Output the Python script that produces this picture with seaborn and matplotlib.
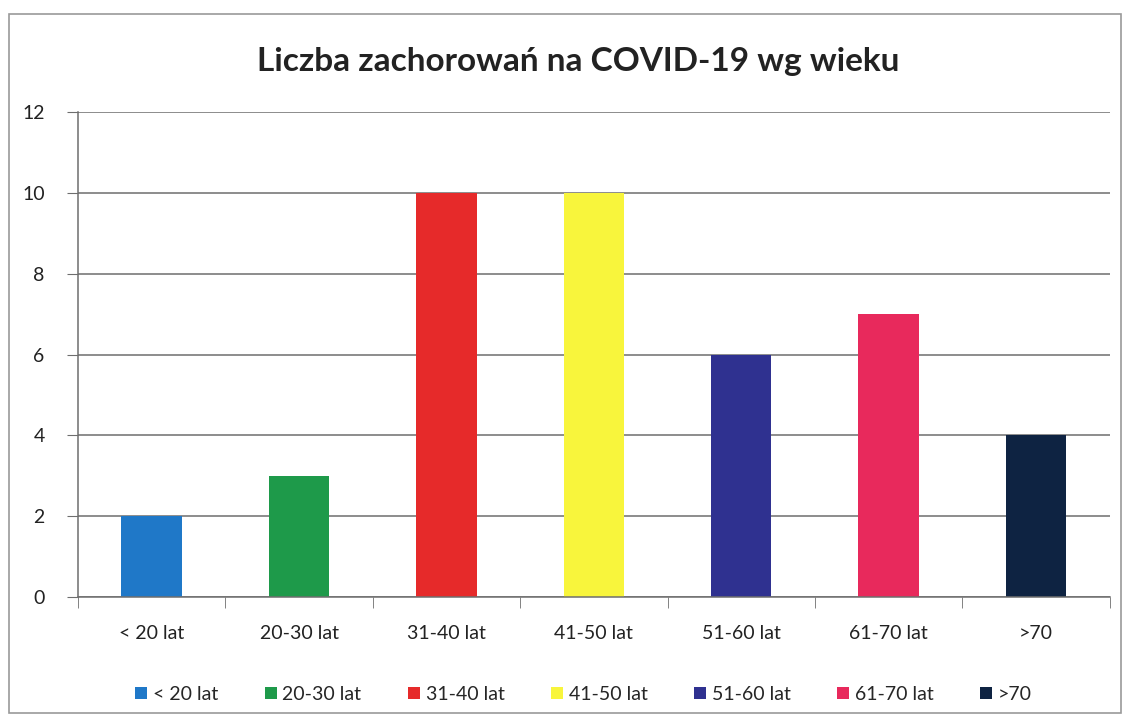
import pandas as pd
import matplotlib
matplotlib.use("Agg")
import matplotlib.pyplot as plt
from matplotlib.patches import Rectangle
import seaborn as sns

# Dane z wykresu
kategorie = ['< 20 lat', '20-30 lat', '31-40 lat', '41-50 lat', '51-60 lat', '61-70 lat', '>70']
liczba = [2, 3, 10, 10, 6, 7, 4]
kolory = ['#1f78c8', '#1e9a4a', '#e62a2a', '#f8f53c', '#2f3190', '#e8295c', '#0e2342']

df = pd.DataFrame({'wiek': kategorie, 'liczba': liczba})

sns.set_style('white')
plt.rcParams['font.family'] = ['Lato', 'DejaVu Sans']

fig = plt.figure(figsize=(11.3, 7.2), dpi=100)
ax = fig.add_axes([0.069, 0.171, 0.913, 0.673])

sns.barplot(data=df, x='wiek', y='liczba', hue='wiek', palette=kolory,
            width=0.41, saturation=1, linewidth=0, ax=ax, legend=True)

ax.set_ylim(0, 12)
ax.set_yticks(range(0, 13, 2))
ax.set_xlim(-0.5, len(kategorie) - 0.5)
ax.yaxis.grid(True, color='#6e6e6e', linewidth=1.1)
ax.set_axisbelow(True)
ax.set_xlabel('')
ax.set_ylabel('')

for s in ['top', 'right']:
    ax.spines[s].set_visible(False)
for s in ['left', 'bottom']:
    ax.spines[s].set_color('#6e6e6e')
    ax.spines[s].set_linewidth(1.1)

# znaczniki osi X między kategoriami (styl Excela)
ax.set_xticks([i - 0.5 for i in range(len(kategorie) + 1)], minor=True)
ax.tick_params(axis='x', which='major', length=0, labelsize=14, pad=20, colors='#222222')
ax.tick_params(axis='x', which='minor', length=8, color='#6e6e6e', bottom=True)
ax.tick_params(axis='y', length=8, color='#6e6e6e', labelsize=14, pad=16, colors='#222222', left=True)

ax.set_title('Liczba zachorowań na COVID-19 wg wieku', fontsize=24, fontweight='bold',
             color='#222222', pad=30, x=0.485)

sns.move_legend(ax, 'lower center', bbox_to_anchor=(0.49, -0.255), ncol=7, frameon=False,
                title=None, fontsize=14, handlelength=0.6, handleheight=0.6,
                handletextpad=0.3, columnspacing=2.4)

# ramka wokół wykresu
fig.patches.append(Rectangle((0.008, 0.01), 0.984, 0.97, transform=fig.transFigure,
                             fill=False, edgecolor='#9a9a9a', linewidth=1.2))

fig.savefig('out.png', dpi=100)
